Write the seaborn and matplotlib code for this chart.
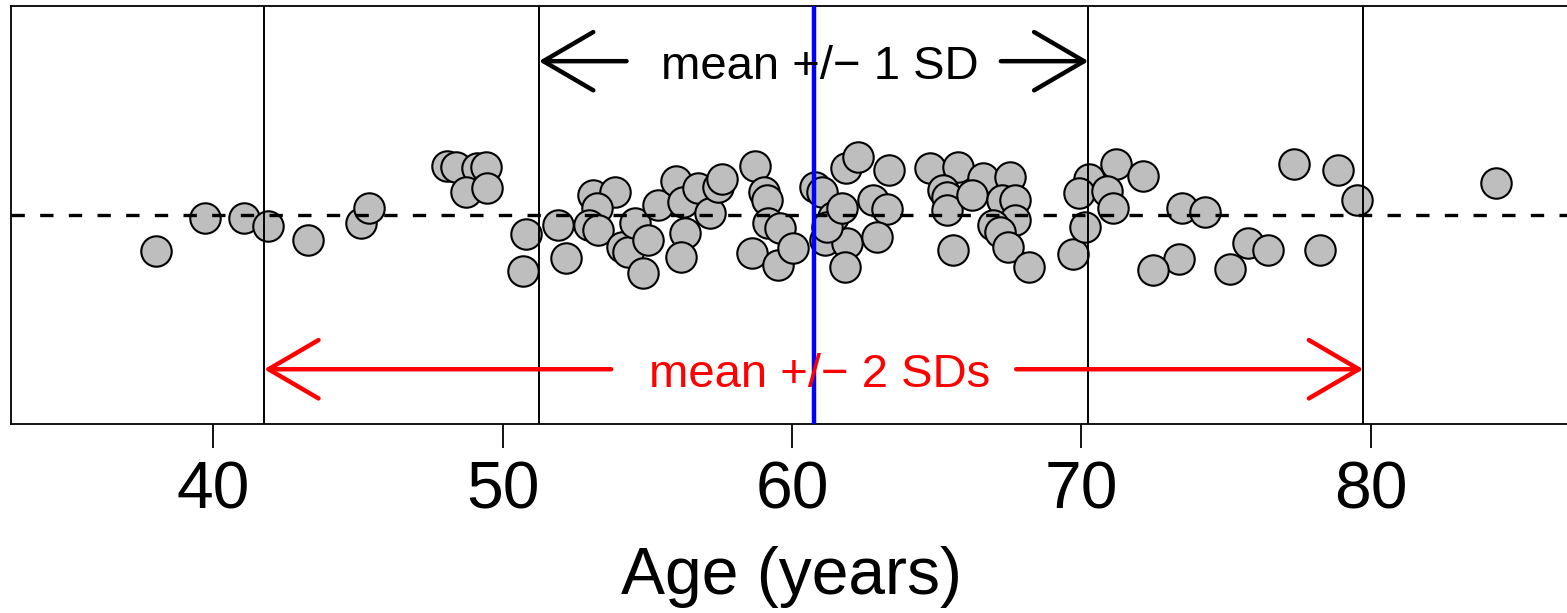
import numpy as np
import pandas as pd
import matplotlib
matplotlib.use("Agg")
import matplotlib.pyplot as plt
import seaborn as sns

# Ages of the participants (years) and the vertical jitter used to spread them
age = [
    38.02, 39.70, 41.07, 41.87, 43.26, 45.11, 45.39, 48.09, 48.39, 49.10,
    49.42, 48.72, 49.47, 50.81, 50.69, 51.90, 52.19, 53.13, 53.88, 53.25,
    52.99, 53.28, 54.12, 54.33, 54.57, 55.03, 54.84, 55.38, 55.99, 56.24,
    56.30, 56.15, 56.76, 57.17, 57.45, 57.57, 58.72, 59.03, 59.13, 59.18,
    59.59, 58.61, 59.53, 60.05, 60.80, 61.03, 61.87, 62.29, 61.14, 61.89,
    61.83, 61.42, 61.20, 63.36, 61.72, 62.79, 63.27, 62.95, 64.77, 65.75,
    65.23, 65.35, 65.35, 66.61, 66.21, 67.53, 67.25, 67.71, 67.71, 66.96,
    67.19, 67.48, 65.55, 68.20, 69.70, 71.20, 72.14, 70.28, 69.93, 70.90,
    71.10, 70.13, 73.47, 74.27, 73.39, 72.49, 75.77, 76.46, 75.14, 77.35,
    78.88, 79.52, 78.25, 84.33,
]
jitter = [
    -0.086, -0.007, -0.007, -0.026, -0.060, -0.018, 0.016, 0.117, 0.116, 0.113,
    0.116, 0.056, 0.064, -0.046, -0.133, -0.024, -0.104, 0.048, 0.056, 0.016,
    -0.024, -0.036, -0.076, -0.089, -0.020, -0.060, -0.138, 0.024, 0.082, 0.032,
    -0.042, -0.101, 0.064, 0.004, 0.068, 0.085, 0.117, 0.056, 0.036, -0.020,
    -0.032, -0.090, -0.120, -0.080, 0.068, 0.056, 0.112, 0.138, -0.060, -0.067,
    -0.124, -0.004, -0.028, 0.108, 0.016, 0.036, 0.014, -0.052, 0.112, 0.116,
    0.060, 0.044, 0.012, 0.088, 0.048, 0.090, 0.036, 0.036, -0.012, -0.024,
    -0.040, -0.076, -0.084, -0.124, -0.093, 0.122, 0.093, 0.085, 0.053, 0.058,
    0.016, -0.029, 0.016, 0.006, -0.106, -0.132, -0.068, -0.084, -0.130, 0.122,
    0.108, 0.036, -0.084, 0.077,
]

mean_age = 60.75
sd_age = 9.5
tick_values = [40, 50, 60, 70, 80]

sns.set_style("white")
plt.rcParams["font.family"] = ["Liberation Sans", "DejaVu Sans"]
plt.rcParams["text.color"] = "black"
plt.rcParams["axes.labelcolor"] = "black"

W, H = 1567, 613
fig = plt.figure(figsize=(W / 100, H / 100), dpi=100)
ax = fig.add_axes([11 / W, (H - 424) / H, 1562 / W, 418 / H])

df = pd.DataFrame({"age": age, "y": 1 + np.asarray(jitter)})
sns.scatterplot(data=df, x="age", y="y", s=480, color="#BEBEBE",
                edgecolor="black", linewidth=1.5, ax=ax, zorder=2,
                legend=False)

# Reference lines: centre line, SD bands and the mean
ax.axhline(1, color="black", lw=2.4, ls=(0, (4, 4.6)), zorder=3)
for k in (-2, -1, 1, 2):
    ax.axvline(mean_age + k * sd_age, color="black", lw=1.4, zorder=3)
ax.axvline(mean_age, color="#0000FF", lw=3.2, zorder=4)


def sd_arrows(level, y, inner, color, label):
    for side in (-1, 1):
        ax.annotate(
            "", xy=(mean_age + side * level * sd_age, y),
            xytext=(mean_age + side * inner, y),
            arrowprops=dict(arrowstyle="->,head_length=36,head_width=21",
                            mutation_scale=1, lw=3.2, color=color,
                            shrinkA=0, shrinkB=0, capstyle="round",
                            joinstyle="round"),
            zorder=5,
        )
    ax.text(mean_age + 0.22, y - 0.042, label, ha="center", va="baseline",
            fontsize=34, color=color, zorder=5)


sd_arrows(1, 1.368, 6.47, "black", "mean +/\u2212 1 SD")
sd_arrows(2, 0.631, 7.0, "#FF0000", "mean +/\u2212 2 SDs")

ax.set_xlim(33.0, 87.0)
ax.set_ylim(0.5, 1.5)
ax.set_xticks(tick_values)
ax.set_xticklabels([str(v) for v in tick_values])
ax.set_yticks([])
ax.set_ylabel("")
ax.set_xlabel("Age (years)", fontsize=47.5, labelpad=17.5, color="black")
ax.tick_params(axis="x", direction="out", length=17, width=1.3, pad=9,
               labelsize=47.5, bottom=True, colors="black")
for sp in ax.spines.values():
    sp.set_visible(True)
    sp.set_color("black")
    sp.set_linewidth(1.3)

fig.savefig("out.png", dpi=100)
